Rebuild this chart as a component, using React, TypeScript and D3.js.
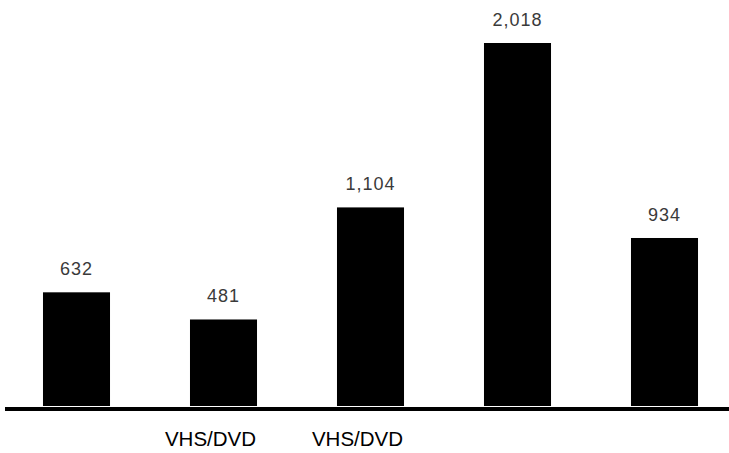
import React, { useEffect, useRef } from 'react';
import * as d3 from 'd3';

const categories = ['A', 'B', 'C', 'D', 'E'];
const values = [632, 481, 1104, 2018, 934];
const tickLabels = ['', 'VHS/DVD', 'VHS/DVD', '', ''];

const BarChart = () => {
  const ref = useRef<SVGSVGElement | null>(null);

  useEffect(() => {
    const width = 729;
    const height = 453;
    const baseY = 406;

    const svg = d3.select(ref.current);
    svg.selectAll('*').remove();
    svg.attr('width', width).attr('height', height);

    const x = d3.scaleBand<string>()
      .domain(categories)
      .range([3, 738])
      .paddingInner(0.544)
      .paddingOuter(0.272);

    const y = d3.scaleLinear().domain([0, 2018]).range([baseY, 43]);

    const data = categories.map((c, i) => ({ c, v: values[i], label: tickLabels[i] }));

    svg.selectAll('rect.bar')
      .data(data)
      .enter()
      .append('rect')
      .attr('class', 'bar')
      .attr('x', (d: any) => x(d.c)!)
      .attr('width', x.bandwidth())
      .attr('y', (d: any) => y(d.v))
      .attr('height', (d: any) => baseY - y(d.v))
      .attr('fill', '#000');

    // value labels
    svg.selectAll('text.val')
      .data(data)
      .enter()
      .append('text')
      .attr('class', 'val')
      .attr('x', (d: any) => x(d.c)! + x.bandwidth() / 2)
      .attr('y', (d: any) => y(d.v) - 17)
      .attr('text-anchor', 'middle')
      .attr('font-family', 'Liberation Sans, Arial, sans-serif')
      .attr('font-size', 18)
      .attr('letter-spacing', 1)
      .attr('fill', '#3a3a3a')
      .text((d: any) => d3.format(',')(d.v));

    // baseline
    svg.append('line')
      .attr('x1', 5)
      .attr('x2', width)
      .attr('y1', baseY + 3)
      .attr('y2', baseY + 3)
      .attr('stroke', '#000')
      .attr('stroke-width', 4);

    // category labels
    svg.selectAll('text.cat')
      .data(data.filter((d) => d.label))
      .enter()
      .append('text')
      .attr('class', 'cat')
      .attr('x', (d: any) => x(d.c)! + x.bandwidth() / 2 - 13)
      .attr('y', 446)
      .attr('text-anchor', 'middle')
      .attr('font-family', 'Liberation Sans, Arial, sans-serif')
      .attr('font-size', 20.5)
      .attr('fill', '#000')
      .text((d: any) => d.label);
  }, []);

  return <svg ref={ref} style={{ position: 'absolute', left: 0, top: 0, background: '#fff' }} />;
};

export default function App() {
  return <BarChart />;
}
